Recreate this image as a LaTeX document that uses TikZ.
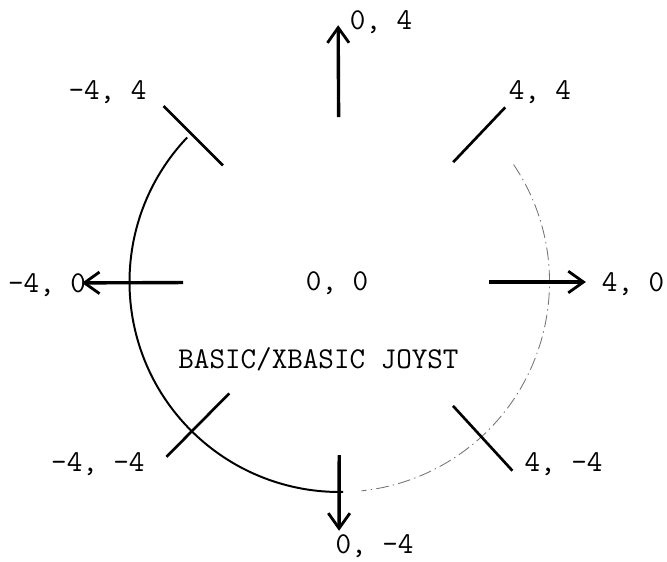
\documentclass[tikz,border=0pt]{standalone}
\usepackage{tikz}
\usetikzlibrary{arrows.meta}
\tikzset{
  lab/.style      = {font=\fontsize{21.5}{25}\selectfont\ttfamily, inner sep=0pt,
                     text depth=0pt},
  dir/.style      = {-{Straight Barb[length=3.8mm, width=5.4mm, line width=2pt]},
                     line width=2.4pt},
  diag/.style     = {line width=1.9pt},
  rim/.style      = {line width=1.4pt},
  rimfaint/.style = {line width=0.6pt, black!55,
                     dash pattern=on 9pt off 3pt on 1pt off 3pt},
}

\begin{document}
\begin{tikzpicture}[x=1cm, y=1cm]
  \useasboundingbox (-8.4875,-7.0) rectangle (8.1875,7.05);

  % inner and outer ends of the strokes, polar from the centre
  \foreach \n/\a/\ri/\ro in {N/90.3/4.12/6.42, W/180.2/3.91/6.44,
                             E/0/3.74/6.16, S/269.9/4.33/6.22,
                             NE/46.5/4.13/6.02, NW/135/4.12/6.22,
                             SW/225.3/3.92/6.15, SE/-47.5/4.2/6.4} {
    \coordinate (\n-in)  at (\a:\ri);
    \coordinate (\n-out) at (\a:\ro);
  }

  % positions
  \node[lab] (l-c)  at (-0.06,0.02)  {0, 0};
  \node[lab] (l-n)  at (1.04,6.55)   {0, 4};
  \node[lab] (l-s)  at (0.875,-6.54) {0, -4};
  \node[lab] (l-w)  at (-7.31,-0.02) {-4, 0};
  \node[lab] (l-e)  at (7.34,0)      {4, 0};
  \node[lab] (l-nw) at (-5.8,4.8)    {-4, 4};
  \node[lab] (l-ne) at (5.01,4.8)    {4, 4};
  \node[lab] (l-sw) at (-6.04,-4.5)  {-4, -4};
  \node[lab] (l-se) at (5.6,-4.5)    {4, -4};
  \node[lab] (title) at (-0.525,-1.89) {BASIC/XBASIC JOYST};

  % the circle: solid on the left, faint on the right
  \draw[rim] (136.5:5.25) arc[start angle=136.5, end angle=271, radius=5.25];
  \draw[rimfaint] (34:5.25) arc[start angle=34, end angle=-84, radius=5.25];

  \foreach \n in {N,W,E,S}
    \draw[dir] (\n-in) -- (\n-out);
  \foreach \n in {NE,NW,SW,SE}
    \draw[diag] (\n-in) -- (\n-out);
\end{tikzpicture}
\end{document}
